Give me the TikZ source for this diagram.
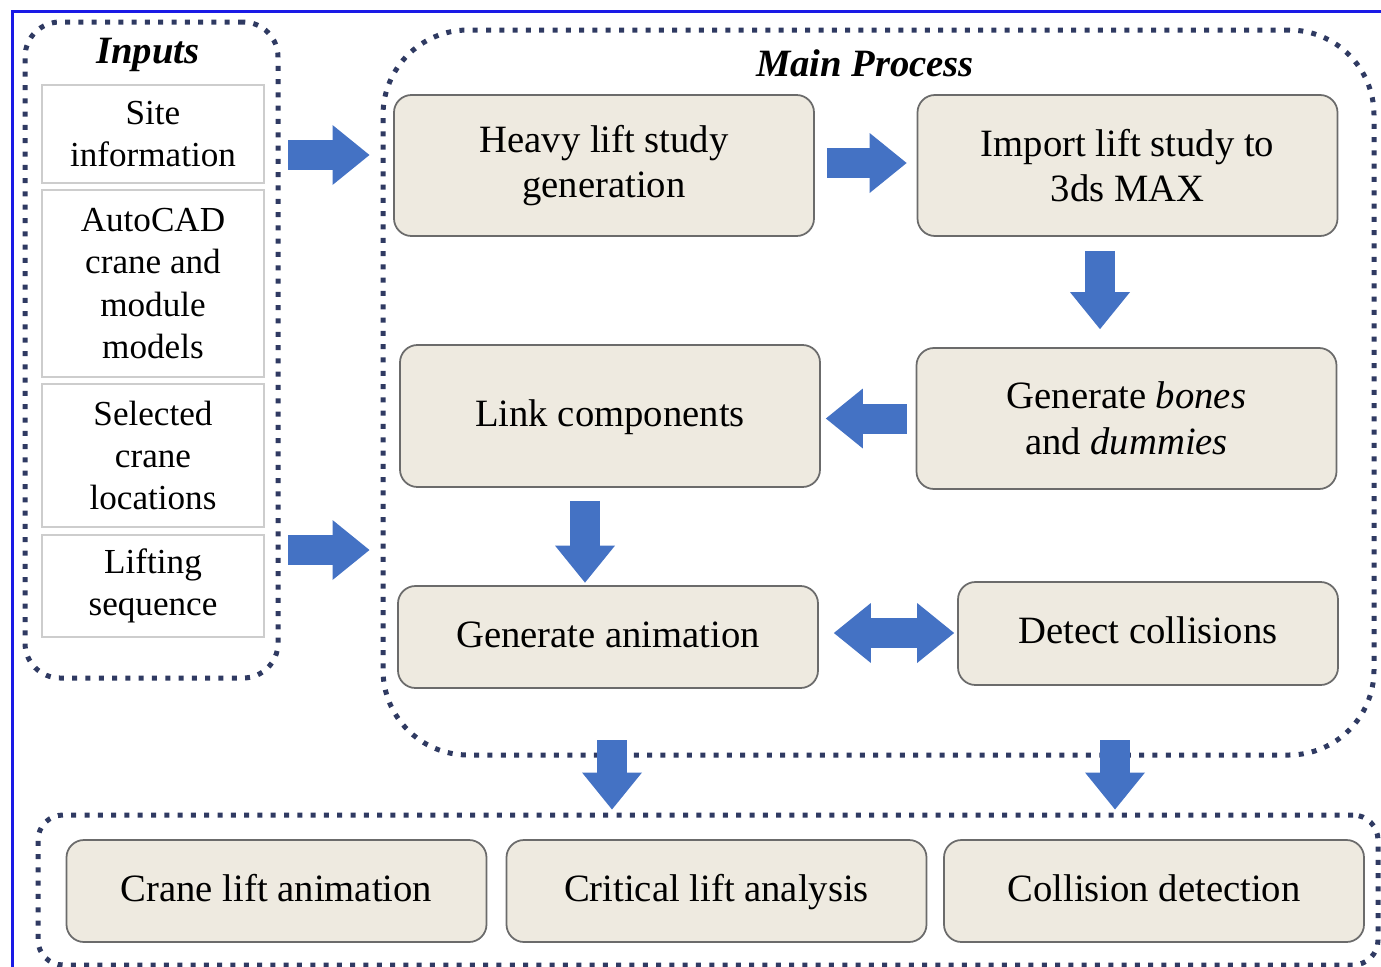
\documentclass[tikz,border=0pt]{standalone}
\usepackage{fontspec}
\setmainfont{Liberation Serif}
\usepackage{tikz}
\usetikzlibrary{arrows.meta}
\definecolor{frameblue}{HTML}{1A1AE6}
\definecolor{dotline}{HTML}{2F3A62}
\definecolor{arrowblue}{HTML}{4472C4}
\definecolor{procfill}{HTML}{EEEAE0}
\definecolor{procline}{HTML}{6B6B6B}
\definecolor{inputline}{HTML}{CDCDCD}

\tikzset{
    groupbox/.style={draw=dotline, line width=1mm, dash pattern=on 1mm off 1.66mm,
        rounded corners=#1, inner sep=0pt},
    grouptitle/.style={font=\fontsize{22}{26}\selectfont\bfseries\itshape},
    inputbox/.style={draw=inputline, line width=0.6pt, fill=white, minimum width=4.44cm,
        align=center, inner sep=0pt, font=\fontsize{20}{24}\selectfont},
    procbox/.style={draw=procline, line width=1pt, fill=procfill, rounded corners=0.35cm,
        minimum width=8.4cm, align=center, inner sep=0pt, font=\fontsize{22}{26}\selectfont},
    oneline/.style={text height=16.5pt, text depth=5pt},
    blockarrow/.style={draw=arrowblue, line width=0.6cm,
        -{Triangle[length=0.74cm, width=1.2cm, line width=0pt]}},
    blockboth/.style={draw=arrowblue, line width=0.6cm,
        {Triangle[length=0.74cm, width=1.2cm, line width=0pt]}-{Triangle[length=0.74cm, width=1.2cm, line width=0pt]}}
}

\begin{document}
\begin{tikzpicture}
    \useasboundingbox (0,0) rectangle (27.62,-19.34);
    % Frame
    \draw[frameblue, line width=0.06cm] (0.26,-19.34) -- (0.26,-0.22) -- (27.62,-0.22);

    % Groups
    \node[groupbox=0.7cm, minimum width=5.06cm, minimum height=13.12cm] (inputs) at (3.03,-7.0) {};
    \node[groupbox=1.7cm, minimum width=19.82cm, minimum height=14.5cm] (main) at (17.57,-7.85) {};
    \node[groupbox=0.5cm, minimum width=26.8cm, minimum height=3.0cm] (outputs) at (14.16,-17.8) {};
    \node[grouptitle] (inputstitle) at (2.96,-1.1) {Inputs};
    \node[grouptitle] (maintitle) at (17.3,-1.26) {Main Process};

    % Inputs
    \node[inputbox, minimum height=1.96cm] (site) at (3.06,-2.68) {Site\\information};
    \node[inputbox, minimum height=3.74cm] (autocad) at (3.06,-5.67) {AutoCAD\\crane and\\module\\models};
    \node[inputbox, minimum height=2.86cm] (cranepos) at (3.06,-9.11) {Selected\\crane\\locations};
    \node[inputbox, minimum height=2.04cm] (lifting) at (3.06,-11.72) {Lifting\\sequence};

    % Main process steps
    \node[procbox, minimum height=2.82cm] (heavy) at (12.08,-3.31) {Heavy lift study\\generation};
    \node[procbox, minimum height=2.82cm] (import) at (22.55,-3.31) {Import lift study to\\3ds MAX};
    \node[procbox, oneline, minimum height=2.84cm] (link) at (12.2,-8.32) {Link components};
    \node[procbox, minimum height=2.82cm] (bones) at (22.53,-8.37) {Generate \textit{bones}\\and \textit{dummies}};
    \node[procbox, oneline, minimum height=2.04cm] (anim) at (12.16,-12.74) {Generate animation};
    \node[procbox, oneline, minimum width=7.6cm, minimum height=2.06cm] (detect) at (22.96,-12.67) {Detect collisions};

    % Outputs
    \node[procbox, oneline, minimum height=2.04cm] (craneanim) at (5.53,-17.82) {Crane lift animation};
    \node[procbox, oneline, minimum height=2.04cm] (critical) at (14.33,-17.82) {Critical lift analysis};
    \node[procbox, oneline, minimum height=2.04cm] (collision) at (23.08,-17.82) {Collision detection};

    % Block arrows
    \coordinate (infirst) at (5.76,-3.1);
    \coordinate (insecond) at (5.76,-11.0);
    \coordinate (outleft) at (12.24,-14.8);
    \coordinate (outright) at (22.3,-14.8);
    \draw[blockarrow, shorten >=0.22cm] (infirst) -- (infirst -| main.west);
    \draw[blockarrow, shorten >=0.22cm] (insecond) -- (insecond -| main.west);
    \draw[blockarrow, shorten <=0.24cm, shorten >=0.2cm] ([yshift=0.05cm]heavy.east) -- ([yshift=0.05cm]heavy.east -| import.west);
    \draw[blockarrow, shorten <=0.28cm, shorten >=0.36cm] ([xshift=-0.55cm]import.south) -- ([xshift=-0.55cm]import.south |- bones.north);
    \draw[blockarrow, shorten <=0.18cm, shorten >=0.1cm] (bones.west) -- (bones.west -| link.east);
    \draw[blockarrow, shorten <=0.26cm, shorten >=0.05cm] ([xshift=-0.5cm]link.south) -- ([xshift=-0.5cm]link.south |- anim.north);
    \draw[blockboth, shorten <=0.3cm, shorten >=0.06cm] ([yshift=0.08cm]anim.east) -- ([yshift=0.08cm]anim.east -| detect.west);
    \draw[blockarrow, shorten >=0.06cm] (outleft) -- (outleft |- outputs.north);
    \draw[blockarrow, shorten >=0.06cm] (outright) -- (outright |- outputs.north);
\end{tikzpicture}
\end{document}
